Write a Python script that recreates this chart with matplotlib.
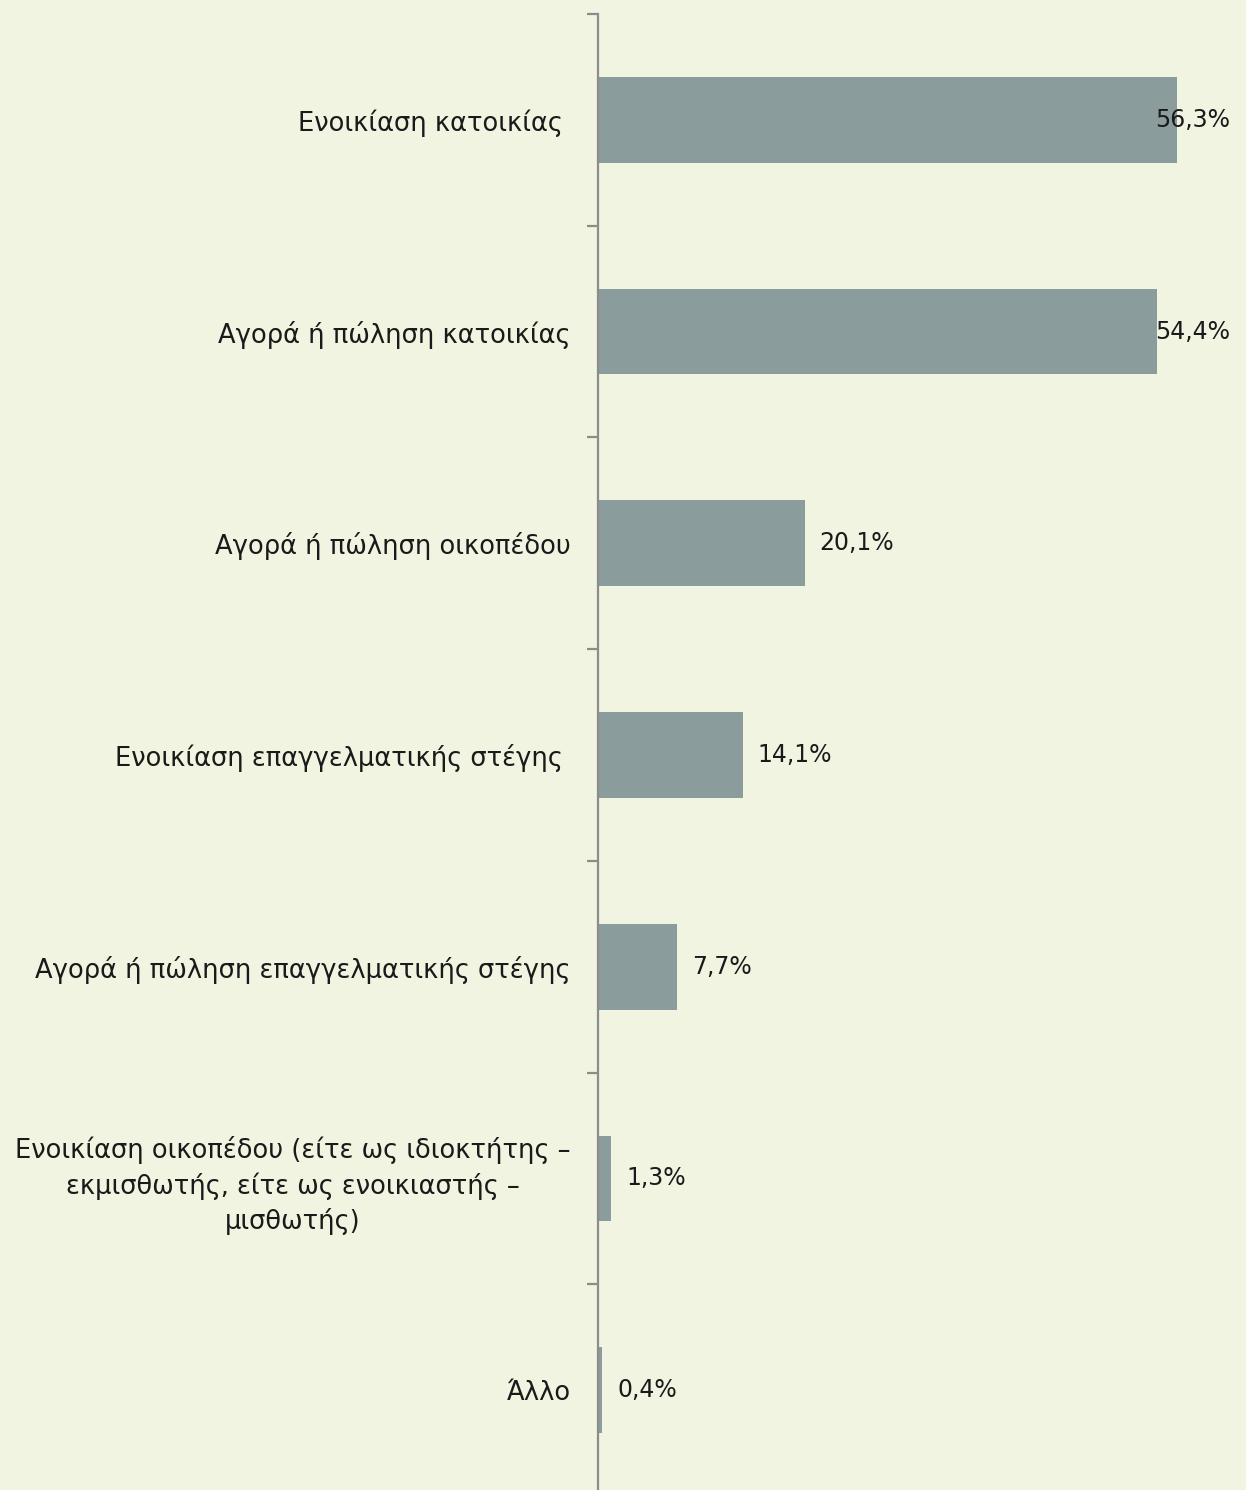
import matplotlib.pyplot as plt
import numpy as np

plt.rcParams['font.family'] = ['DejaVu Sans']

categories = [
    "Ενοικίαση κατοικίας ",
    "Αγορά ή πώληση κατοικίας",
    "Αγορά ή πώληση οικοπέδου",
    "Ενοικίαση επαγγελματικής στέγης ",
    "Αγορά ή πώληση επαγγελματικής στέγης",
    "Ενοικίαση οικοπέδου (είτε ως ιδιοκτήτης –\nεκμισθωτής, είτε ως ενοικιαστής –\nμισθωτής)",
    "Άλλο",
]
values = [56.3, 54.4, 20.1, 14.1, 7.7, 1.3, 0.4]
value_labels = ["56,3%", "54,4%", "20,1%", "14,1%", "7,7%", "1,3%", "0,4%"]

bg = '#F1F4E0'
bar_color = '#8A9C9C'
axis_color = '#8C8C8C'

fig = plt.figure(figsize=(12.46, 14.90), dpi=100, facecolor=bg)
ax = fig.add_axes([598 / 1246, -6 / 1490, 1 - 598 / 1246, 1482 / 1490])
ax.set_facecolor(bg)

y = np.arange(len(categories))
ax.barh(y, values, height=0.405, color=bar_color)
ax.set_xlim(0, 63.03)
ax.set_ylim(len(categories) - 0.5, -0.5)

# value labels; the long ones get squeezed against the right edge
for yi, v, lab in zip(y, values, value_labels):
    x = min(v + 1.45, 54.2)
    ax.text(x, yi, lab, va='center', ha='left', fontsize=17, color='#1a1a1a')

for s in ['top', 'right', 'bottom']:
    ax.spines[s].set_visible(False)
ax.spines['left'].set_color(axis_color)
ax.spines['left'].set_linewidth(1.6)

ax.set_xticks([])
ax.set_yticks(np.arange(-0.5, len(categories), 1.0))
ax.set_yticklabels([])
ax.tick_params(axis='y', length=8, width=1.6, color=axis_color)
ax.set_yticks(y, minor=True)
ax.set_yticklabels(categories, minor=True, fontsize=18.5, color='#1a1a1a',
                   multialignment='center', linespacing=1.4)
ax.tick_params(axis='y', which='minor', length=0, pad=19.5)

fig.savefig('out.png', dpi=100, facecolor=bg)
